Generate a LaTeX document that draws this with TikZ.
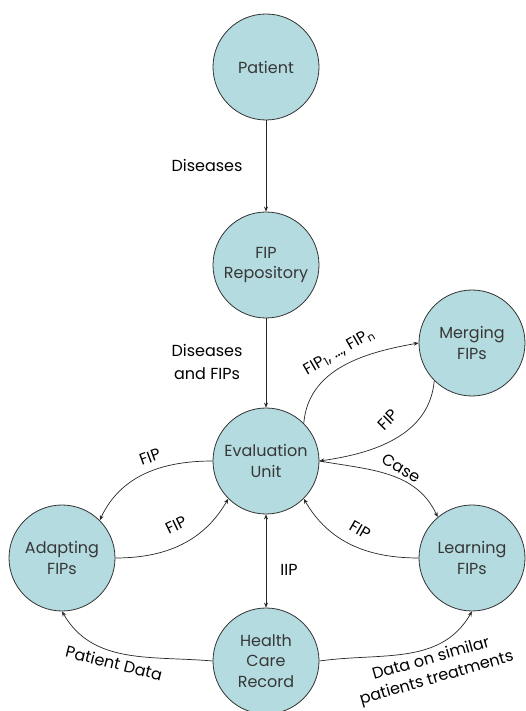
\documentclass[tikz,border=0pt]{standalone}
\usepackage{fontspec}
\setmainfont{Poppins}
\usetikzlibrary{arrows.meta}
\definecolor{unitfill}{RGB}{180,219,223}
\definecolor{unittext}{RGB}{55,55,55}
\begin{document}
\begin{tikzpicture}[x=1pt, y=1pt,
  unit/.style={circle, draw=black!80, fill=unitfill, line width=0.8,
    minimum size=106pt, inner sep=0pt, align=center, text=unittext,
    font=\fontsize{16}{20.5}\selectfont},
  flow/.style={line width=0.7, draw=black!85, -{Stealth[length=5pt,width=4pt]}},
  both/.style={line width=0.7, draw=black!85, {Stealth[length=5pt,width=4pt]}-{Stealth[length=5pt,width=4pt]}},
  lbl/.style={font=\fontsize{16}{23}\selectfont, align=center, inner sep=0pt}]

  \useasboundingbox (0,0) rectangle (526,711);

  % the units
  \node[unit] (patient) at (266, 644) {Patient};
  \node[unit] (repo) at (266, 446) {FIP\\Repository};
  \node[unit] (eval) at (266, 250) {Evaluation\\Unit};
  \node[unit] (record) at (266, 50) {Health\\Care\\Record};
  \node[unit] (adapt) at (62, 153) {Adapting\\FIPs};
  \node[unit] (learn) at (472, 153) {Learning\\FIPs};
  \node[unit] (merge) at (472, 368) {Merging\\FIPs};

  % straight flows down the middle
  \draw[flow] (patient) -- (repo);
  \node[lbl] (diseases) at (207, 546) {Diseases};
  \draw[flow] (repo) -- (eval);
  \node[lbl] (disfips) at (207, 349) {Diseases\\and FIPs};
  \draw[both] (eval) -- (record);
  \node[lbl] (iip) at (289, 141) {IIP};

  % merging loop
  \draw[flow] (eval.45) to[out=85, in=190] (merge.west);
  \node[lbl, rotate=30] (fipn) at (339, 359)
    {FIP\textsubscript{1}, \dots, FIP\textsubscript{n}};
  \draw[flow] (merge.225) to[out=-95, in=8] (eval.east);
  \node[lbl, rotate=45] (fipm) at (388, 291) {FIP};

  % learning loop
  \draw[flow] (eval.east) to[out=-10, in=115] (learn.130);
  \node[lbl, rotate=-30] (case) at (401, 243) {Case};
  \draw[flow] (learn.west) to[out=180, in=-60] (eval.-45);
  \node[lbl, rotate=-30] (fipl) at (360, 181) {FIP};

  % adapting loop
  \draw[flow] (eval.west) to[out=180, in=65] (adapt.45);
  \node[lbl, rotate=20] (fipa) at (150, 254) {FIP};
  \draw[flow] (adapt.east) to[out=0, in=-120] (eval.-135);
  \node[lbl, rotate=26] (fipb) at (176, 186) {FIP};

  % from the health care record
  \draw[flow] (record.west) to[out=175, in=-60] (adapt.south);
  \node[lbl, rotate=-14] (patdata) at (114, 48) {Patient Data};
  \draw[flow] (record.east) to[out=8, in=-120] (learn.south);
  \node[lbl, rotate=16, font=\fontsize{16}{20}\selectfont] (simdata) at (434, 42)
    {Data on similar\\patients treatments};

\end{tikzpicture}
\end{document}
